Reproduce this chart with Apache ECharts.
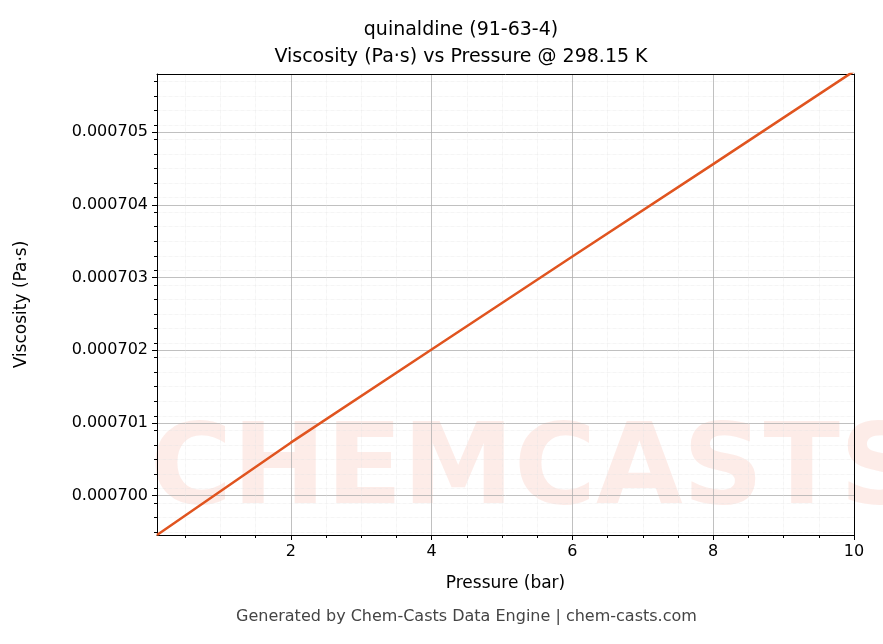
<!DOCTYPE html>
<html><head><meta charset="utf-8">
<script src="https://cdn.jsdelivr.net/npm/echarts@6/dist/echarts.min.js"></script>
<style>html,body{margin:0;padding:0;background:#fff}#c{width:883px;height:644px}</style>
</head><body><div id="c"></div>
<script>
const pressure = [0.1, 2, 4, 6, 8, 10];
const viscosity = [0.00069946, 0.00070073, 0.00070201, 0.00070329, 0.00070456, 0.00070584];
const xTicks = [2, 4, 6, 8, 10];
const yTicks = [0.000700, 0.000701, 0.000702, 0.000703, 0.000704, 0.000705];
const xMinor = [0.5,1,1.5,2.5,3,3.5,4.5,5,5.5,6.5,7,7.5,8.5,9,9.5];
const yMinor = [];
for (let v = 6995; v <= 7058; v += 2) { if (v % 10 !== 0) yMinor.push(v * 1e-7); }
const chart = echarts.init(document.getElementById('c'));
const ff = 'DejaVu Sans';
chart.setOption({
  animation:false,
  title:{text:'quinaldine (91-63-4)\nViscosity (Pa·s) vs Pressure @ 298.15 K',left:456,top:12,textAlign:'center',
    textStyle:{fontFamily:ff,fontSize:19,fontWeight:'normal',color:'#000',lineHeight:27}},
  graphic:[
    {type:'text',left:150,top:418,z:-1,style:{text:'CHEMCASTS',font:'bold 112px DejaVu Sans',fill:'rgba(250,200,190,0.35)'}},
    {type:'text',left:236,top:609,style:{text:'Generated by Chem-Casts Data Engine | chem-casts.com',font:'16px DejaVu Sans',fill:'#444'}}
  ],
  grid:{left:157,right:29,top:74,bottom:109},
  xAxis:[{type:'value',min:0.1,max:10,name:'Pressure (bar)',nameLocation:'middle',nameGap:40,
    nameTextStyle:{fontFamily:ff,fontSize:17,color:'#000'},
    axisLine:{onZero:false,lineStyle:{color:'#000'}},
    axisTick:{customValues:xTicks,length:5,lineStyle:{color:'#000'}},
    axisLabel:{customValues:xTicks,fontFamily:ff,fontSize:16,color:'#000',margin:9},
    splitLine:{show:true,lineStyle:{color:'#b0b0b0',width:0.8}}},
   {type:'value',min:0.1,max:10,position:'bottom',axisLine:{show:false},
    axisTick:{customValues:xMinor,length:3,lineStyle:{color:'#000'}},axisLabel:{show:false},
    splitLine:{show:true,lineStyle:{color:'#e4e4e4',width:0.6,type:'dotted'}}},
   {type:'value',min:0.1,max:10,position:'top',axisLine:{show:true,lineStyle:{color:'#000'}},
    axisTick:{show:false},axisLabel:{show:false},splitLine:{show:false}}],
  yAxis:[{type:'value',min:0.00069946,max:0.0007058,name:'Viscosity (Pa·s)',nameLocation:'middle',nameGap:127,
    nameTextStyle:{fontFamily:ff,fontSize:17,color:'#000'},
    axisLine:{show:true,lineStyle:{color:'#000'}},
    axisTick:{show:true,customValues:yTicks,length:5,lineStyle:{color:'#000'}},
    axisLabel:{customValues:yTicks,fontFamily:ff,fontSize:16,color:'#000',margin:9,formatter:v=>v.toFixed(6)},
    splitLine:{show:true,lineStyle:{color:'#b0b0b0',width:0.8}}},
   {type:'value',min:0.00069946,max:0.0007058,position:'left',axisLine:{show:false},
    axisTick:{show:true,customValues:yMinor,length:3,lineStyle:{color:'#000'}},axisLabel:{show:false},
    splitLine:{show:true,lineStyle:{color:'#e4e4e4',width:0.6,type:'dotted'}}},
   {type:'value',min:0.00069946,max:0.0007058,position:'right',axisLine:{show:true,lineStyle:{color:'#000'}},
    axisTick:{show:false},axisLabel:{show:false},splitLine:{show:false}}],
  series:[{type:'line',data:pressure.map((p,i)=>[p,viscosity[i]]),showSymbol:false,
    lineStyle:{color:'#e0541f',width:2.5},z:5}]
});
</script></body></html>
